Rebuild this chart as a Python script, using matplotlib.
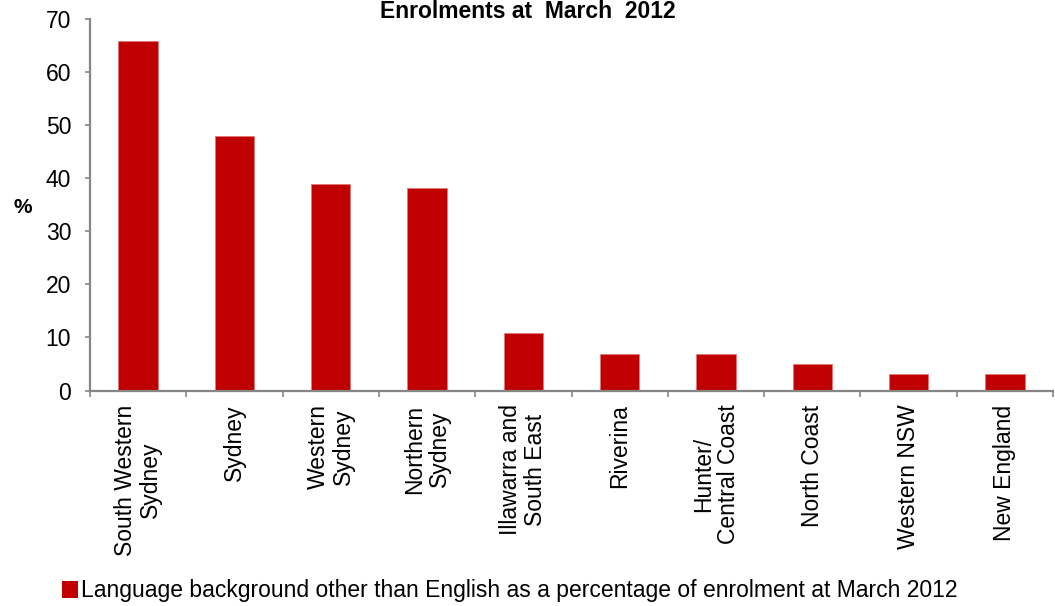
import matplotlib
matplotlib.use("Agg")
import matplotlib.pyplot as plt
from matplotlib.patches import Patch

plt.rcParams['font.family'] = ['Liberation Sans', 'DejaVu Sans']

regions = [
    "South Western\nSydney", "Sydney", "Western\nSydney", "Northern\nSydney",
    "Illawarra and\nSouth East", "Riverina", "Hunter/\nCentral Coast",
    "North Coast", "Western NSW", "New England",
]
lbote_pct = [66.0, 47.9, 38.9, 38.1, 10.9, 6.8, 6.8, 5.0, 3.1, 3.1]
y_ticks = [0, 10, 20, 30, 40, 50, 60, 70]
title = "Enrolments at  March  2012"
series_name = ("Language background other than English as a percentage "
               "of enrolment at March 2012")

BAR = "#C00000"
AXIS = "#868686"

W, H = 1055, 606
fig = plt.figure(figsize=(W / 100, H / 100), dpi=100)
ax = fig.add_axes([90 / W, 1 - 390.5 / H, (1053 - 90) / W, (390.5 - 19.3) / H])

x = list(range(len(regions)))
ax.bar(x, lbote_pct, width=0.41, color=BAR, edgecolor="#E2797A", linewidth=0.6)

ax.set_xlim(-0.5, len(regions) - 0.5)
ax.set_ylim(0, 70)
ax.set_yticks(y_ticks)
ax.tick_params(axis="y", labelsize=16.5, length=3.6, width=1.2, color=AXIS, pad=10)

ax.set_xticks(x)
ax.set_xticklabels(regions, rotation=90, fontsize=16.5, ha="center", va="top",
                   multialignment="center", linespacing=1.12)
ax.tick_params(axis="x", which="major", length=0, pad=10)
ax.set_xticks([k - 0.5 for k in range(len(regions) + 1)], minor=True)
ax.tick_params(axis="x", which="minor", length=4.3, width=1.2, color=AXIS)

for side in ("top", "right"):
    ax.spines[side].set_visible(False)
for side in ("left", "bottom"):
    ax.spines[side].set_color(AXIS)
    ax.spines[side].set_linewidth(1.6)

fig.text(23 / W, 1 - 208 / H, "%", fontsize=15, fontweight="bold",
         ha="center", va="center")
fig.text(527.5 / W, 1 - 18.3 / H, title, fontsize=16.5, fontweight="bold",
         ha="center", va="baseline")

handle = Patch(facecolor=BAR, edgecolor="none")
fig.legend([handle], [series_name], loc="center left",
           bbox_to_anchor=(62 / W, 1 - 591 / H),
           frameon=False, fontsize=16.5, handlelength=0.7, handleheight=0.7,
           handletextpad=0.15, borderpad=0, borderaxespad=0)

fig.savefig("out.png", dpi=100)
